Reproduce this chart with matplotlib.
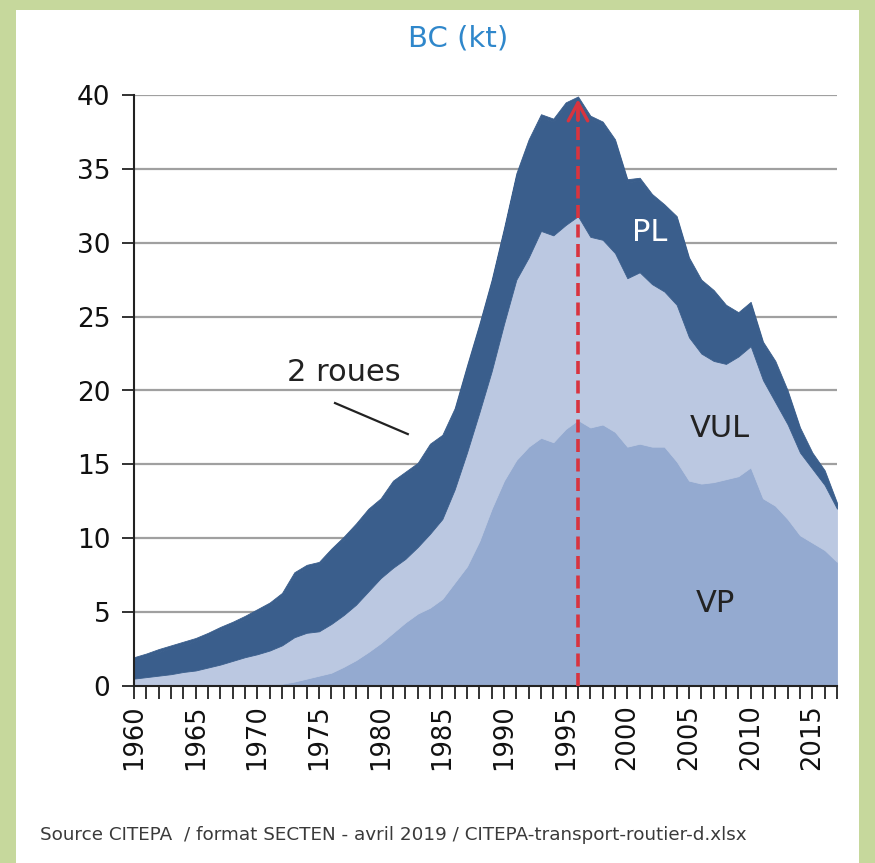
import numpy as np
import matplotlib
matplotlib.use("Agg")
import matplotlib.pyplot as plt
from matplotlib.patches import Rectangle

years = list(range(1960, 2018))

# Emissions (kt) per vehicle category, stacked bottom -> top
vp = [0.05, 0.05, 0.05, 0.05, 0.05, 0.05, 0.05, 0.05, 0.05, 0.05,
      0.05, 0.1, 0.15, 0.3, 0.5, 0.7, 0.9, 1.3, 1.75, 2.3,
      2.9, 3.6, 4.3, 4.9, 5.3, 5.9, 7.0, 8.1, 9.8, 12.0,
      13.9, 15.3, 16.2, 16.8, 16.5, 17.4, 18.0, 17.5, 17.7, 17.2,
      16.2, 16.4, 16.2, 16.2, 15.2, 13.9, 13.7, 13.8, 14.0, 14.2,
      14.8, 12.7, 12.2, 11.3, 10.2, 9.7, 9.2, 8.4]
vul = [0.45, 0.55, 0.65, 0.75, 0.9, 1.0, 1.2, 1.4, 1.65, 1.9,
       2.1, 2.3, 2.6, 3.0, 3.1, 3.0, 3.3, 3.5, 3.75, 4.1,
       4.4, 4.4, 4.3, 4.5, 5.0, 5.4, 6.3, 7.7, 8.7, 9.3,
       10.6, 12.2, 12.8, 14.0, 14.0, 13.8, 13.8, 12.9, 12.5, 12.1,
       11.4, 11.6, 11.0, 10.5, 10.6, 9.7, 8.8, 8.2, 7.8, 8.1,
       8.2, 8.0, 7.0, 6.4, 5.6, 5.0, 4.4, 3.6]
pl = [1.25, 1.4, 1.6, 1.75, 1.85, 2.0, 2.15, 2.35, 2.45, 2.6,
      2.85, 3.05, 3.35, 4.2, 4.4, 4.5, 4.9, 5.1, 5.3, 5.4,
      5.2, 5.7, 5.7, 5.5, 5.9, 5.5, 5.3, 5.7, 5.8, 6.0,
      6.3, 7.0, 7.8, 7.7, 7.7, 8.1, 7.9, 8.0, 7.8, 7.5,
      6.5, 6.2, 5.9, 5.7, 5.8, 5.2, 4.8, 4.6, 3.8, 2.8,
      2.8, 2.4, 2.6, 2.1, 1.5, 0.9, 0.8, 0.2]
deux_roues = [0.2, 0.2, 0.2, 0.2, 0.2, 0.2, 0.2, 0.2, 0.2, 0.2,
              0.2, 0.2, 0.2, 0.2, 0.2, 0.2, 0.2, 0.2, 0.2, 0.2,
              0.2, 0.2, 0.2, 0.2, 0.2, 0.2, 0.2, 0.2, 0.2, 0.2,
              0.2, 0.2, 0.2, 0.2, 0.2, 0.2, 0.2, 0.2, 0.2, 0.2,
              0.2, 0.2, 0.2, 0.2, 0.2, 0.2, 0.2, 0.2, 0.2, 0.2,
              0.2, 0.2, 0.2, 0.2, 0.2, 0.2, 0.2, 0.2]

x_labels = list(range(1960, 2016, 5))
y_ticks = list(range(0, 41, 5))

c_vp = "#94AAD0"
c_vul = "#BBC8E1"
c_pl = "#3A5E8C"
c_red = "#D8343F"

plt.rcParams["font.family"] = ["DejaVu Sans"]

fig = plt.figure(figsize=(8.75, 8.63), dpi=100)
fig.patch.set_facecolor("#C6D89C")
fig.add_artist(Rectangle((16 / 875, 0), (859 - 16) / 875, (863 - 10) / 863,
                         transform=fig.transFigure, facecolor="white",
                         edgecolor="none", zorder=0))

ax = fig.add_axes([134 / 875, 1 - 686 / 863, (837 - 134) / 875, (686 - 95) / 863])
ax.set_facecolor("none")
polys = ax.stackplot(years, vp, vul, pl, deux_roues,
                     colors=[c_vp, c_vul, c_pl, c_pl], linewidth=0)
for p, c in zip(polys, [c_vp, c_vul, c_pl, c_pl]):
    p.set_edgecolor(c)
    p.set_linewidth(0.6)

ax.set_xlim(1960, 2017)
ax.set_ylim(0, 40)
ax.set_yticks(y_ticks)
ax.set_xticks(x_labels)
ax.set_xticks(years, minor=True)
ax.set_xticklabels([str(y) for y in x_labels], rotation=90)
ax.set_axisbelow(True)
ax.yaxis.grid(True, color="#A0A0A0", linewidth=1.6)
ax.xaxis.grid(False)
for s in ["top", "right"]:
    ax.spines[s].set_visible(False)
for s in ["left", "bottom"]:
    ax.spines[s].set_color("#222222")
    ax.spines[s].set_linewidth(1.5)
    ax.spines[s].set_zorder(5)
ax.tick_params(axis="both", which="both", direction="out", length=9, width=1.3,
               color="#222222")
ax.tick_params(axis="y", labelsize=19, pad=8, labelcolor="#111111")
ax.tick_params(axis="x", labelsize=18.5, pad=4, labelcolor="#111111")

# Peak arrow
total = np.array(vp) + np.array(vul) + np.array(pl) + np.array(deux_roues)
ipk = int(np.argmax(total))
xpk = years[ipk]
ax.plot([xpk, xpk], [0, total[ipk] - 0.8], linestyle=(0, (3.6, 1.8)),
        color=c_red, linewidth=2.6, zorder=6)
ax.annotate("", xy=(xpk, total[ipk]), xytext=(xpk, total[ipk] - 1.8),
            arrowprops=dict(arrowstyle="->,head_length=1.3,head_width=0.7",
                            color=c_red, lw=2.4), zorder=7)

ax.text(2001.85, 30.7, "PL", color="white", fontsize=22,
        ha="center", va="center", zorder=8)
ax.text(2007.5, 17.4, "VUL", color="#222222", fontsize=22,
        ha="center", va="center", zorder=8)
ax.text(2007.1, 5.6, "VP", color="#222222", fontsize=22,
        ha="center", va="center", zorder=8)
ax.text(1977.0, 21.2, "2 roues", color="#222222", fontsize=22,
        ha="center", va="center", zorder=8)
ax.plot([1976.3, 1982.2], [19.15, 17.05], color="#222222", linewidth=1.6, zorder=8)

fig.text(458 / 875, 1 - 38 / 863, "BC (kt)", color="#2F87CB", fontsize=21,
         ha="center", va="center")
fig.text(40 / 875, 1 - 835 / 863,
         "Source CITEPA  / format SECTEN - avril 2019 / CITEPA-transport-routier-d.xlsx",
         color="#3A3A3A", fontsize=13.2, ha="left", va="center")

fig.savefig("out.png", dpi=100, facecolor=fig.get_facecolor())
